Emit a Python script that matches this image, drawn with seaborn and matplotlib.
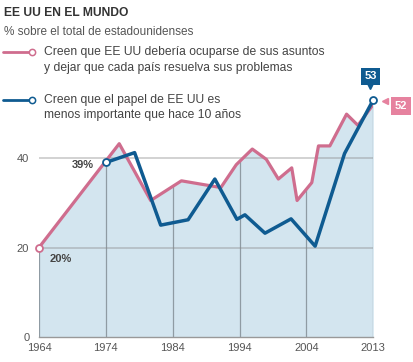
import numpy as np
import matplotlib
matplotlib.use("Agg")
import matplotlib.pyplot as plt
from matplotlib.lines import Line2D
import seaborn as sns

# positions along the time axis (ticks every 10 units, last tick labelled 2013)
x_mind = [1964, 1976, 1980.7, 1985.3, 1991.2, 1993.5, 1995.9, 1998, 1999.8,
          2001.8, 2002.6, 2004.8, 2005.8, 2007.5, 2010, 2011.7, 2014]
y_mind = [20, 43.2, 30.5, 34.9, 33.4, 38.5, 42, 39.7, 35.3,
          37.8, 30.5, 34.5, 42.7, 42.7, 49.8, 47.3, 52]
x_role = [1974, 1978.3, 1982.2, 1986.3, 1990.3, 1993.6, 1994.8, 1997.8,
          2001.7, 2005.3, 2009.7, 2014]
y_role = [39, 41.2, 25, 26.2, 35.3, 26.3, 27.3, 23.2, 26.4, 20.3, 41, 53]

tick_pos = [1964, 1974, 1984, 1994, 2004, 2014]
tick_labels = ["1964", "1974", "1984", "1994", "2004", "2013"]
y_ticks = [0, 20, 40]

legend_mind = ["Creen que EE UU debería ocuparse de sus asuntos",
               "y dejar que cada país resuelva sus problemas"]
legend_role = ["Creen que el papel de EE UU es",
               "menos importante que hace 10 años"]

PINK = "#cf6d8e"
BLUE = "#0f5b91"
FILL = "#d3e5ef"

sns.set_style("white")
plt.rcParams["font.family"] = ["Liberation Sans", "DejaVu Sans"]

W, H = 414, 362
fig = plt.figure(figsize=(W / 100, H / 100), dpi=100)
ax = fig.add_axes([39 / W, 1 - 337 / H, (373.3 - 39) / W, (337 - 68.5) / H])

def fx(px):
    return px / W

def fy(py):
    return 1 - py / H

# shaded area under the pink series
ax.fill_between(x_mind, 0, y_mind, color=FILL, lw=0, zorder=1)

# vertical guides only inside the shaded area
tops = np.interp(tick_pos, x_mind, y_mind)
ax.vlines(tick_pos, 0, tops, color="#8f9ba3", lw=0.9, zorder=2)
for yv in y_ticks[1:]:
    ax.axhline(yv, color="#8a8a8a", alpha=0.45, lw=1.2, zorder=2)

sns.lineplot(x=x_mind, y=y_mind, ax=ax, color=PINK, lw=2.3, zorder=3)
sns.lineplot(x=x_role, y=y_role, ax=ax, color=BLUE, lw=2.5, zorder=4)

# open circle markers
ax.plot(x_mind[0], y_mind[0], "o", ms=5, mfc="white", mec=PINK, mew=1.3, zorder=5, clip_on=False)
ax.plot(x_role[0], y_role[0], "o", ms=5, mfc="white", mec=BLUE, mew=1.3, zorder=5, clip_on=False)
ax.plot(x_role[-1], y_role[-1], "o", ms=5, mfc="white", mec=BLUE, mew=1.3, zorder=6, clip_on=False)

ax.set_xlim(1964, 2014)
ax.set_ylim(0, 60)
ax.set_xticks(tick_pos)
ax.set_xticklabels(tick_labels)
ax.set_yticks(y_ticks)
ax.set_xlabel("")
ax.set_ylabel("")
for s in ["top", "right", "left"]:
    ax.spines[s].set_visible(False)
ax.spines["bottom"].set_color("#999999")
ax.spines["bottom"].set_linewidth(1)
ax.tick_params(axis="y", length=5, width=1, color="#aaaaaa", pad=2, labelsize=8, labelcolor="#555555")
ax.tick_params(axis="x", length=2, width=1, color="#999999", pad=2, labelsize=8, labelcolor="#555555")

# value annotations
ax.annotate(f"{y_mind[0]:.0f}%", (x_mind[0], y_mind[0]), xytext=(8, -8), textcoords="offset points",
            fontsize=8, fontweight="bold", color="#444444", ha="left", va="center")
ax.annotate(f"{y_role[0]:.0f}%", (x_role[0], y_role[0]), xytext=(-9, -2), textcoords="offset points",
            fontsize=8, fontweight="bold", color="#444444", ha="right", va="center")
ax.annotate(f"{y_role[-1]:.0f}", (x_role[-1], y_role[-1]), xytext=(-2, 17), textcoords="offset points",
            fontsize=8, fontweight="bold", color="white", ha="center", va="center", annotation_clip=False,
            bbox=dict(boxstyle="square,pad=0.3", fc=BLUE, ec="none"))
ax.annotate(f"{y_mind[-1]:.0f}", (x_role[-1], y_mind[-1]), xytext=(20, -1), textcoords="offset points",
            fontsize=8, fontweight="bold", color="white", ha="center", va="center", annotation_clip=False,
            bbox=dict(boxstyle="square,pad=0.35", fc="#e6829f", ec="none"))
# small pointers of the boxes
fig.add_artist(Line2D([fx(370)], [fy(85.5)], marker="v", ms=4, color=BLUE, lw=0))
fig.add_artist(Line2D([fx(385)], [fy(101)], marker="<", ms=4, color="#e6829f", lw=0))

# title and legend
fig.text(fx(4), fy(16.5), "EE UU EN EL MUNDO", fontsize=8.7, fontweight="bold", color="#333333", va="baseline")
fig.text(fx(4), fy(35), "% sobre el total de estadounidenses", fontsize=8.5, color="#555555", va="baseline")

fig.add_artist(Line2D([fx(3), fx(30)], [fy(52), fy(52)], color=PINK, lw=2))
fig.add_artist(Line2D([fx(32)], [fy(52)], marker="o", ms=4.5, mfc="white", mec=PINK, mew=1.1, lw=0))
for i, line in enumerate(legend_mind):
    fig.text(fx(44), fy(55.5 + 16 * i), line, fontsize=8.7, color="#444444", va="baseline")

fig.add_artist(Line2D([fx(3), fx(30)], [fy(100), fy(100)], color=BLUE, lw=2))
fig.add_artist(Line2D([fx(32)], [fy(100)], marker="o", ms=4.5, mfc="white", mec=BLUE, mew=1.1, lw=0))
for i, line in enumerate(legend_role):
    fig.text(fx(44), fy(102.5 + 15.5 * i), line, fontsize=8.7, color="#444444", va="baseline")

fig.savefig("out.png", dpi=100)
